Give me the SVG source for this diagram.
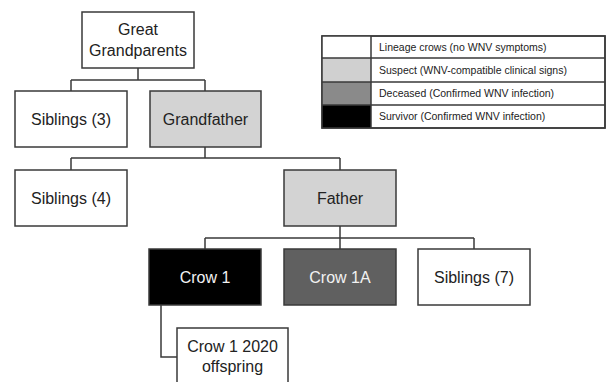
<svg xmlns="http://www.w3.org/2000/svg" width="608" height="382" viewBox="0 0 608 382">
<style>
.box{stroke:#3a3a3a;stroke-width:1.5}
.w{fill:#ffffff}
.s{fill:#d3d3d3}
.d{fill:#606060}
.k{fill:#000000}
.t{font-family:"Liberation Sans",Arial,sans-serif;font-size:16px;fill:#222;text-anchor:middle}
.tw{fill:#f2f2f2}
.lt{font-family:"Liberation Sans",Arial,sans-serif;font-size:10.5px;fill:#222}
.c{fill:none;stroke:#3a3a3a;stroke-width:1.5}
</style>
<rect width="608" height="382" fill="#ffffff"/>
<g id="connectors">
<path class="c" d="M138 68V80M71 80H205M71 80V91M205 80V91"/>
<path class="c" d="M205 147V158M71 158H340M71 158V170M340 158V170"/>
<path class="c" d="M340 226V238M205 238H474M205 238V249M340 238V249M474 238V249"/>
<path class="c" d="M161 305V357H177"/>
</g>
<g id="great-grandparents">
<rect class="box w" x="82" y="12" width="112" height="56"/>
<text class="t" x="138" y="35">Great</text>
<text class="t" x="138" y="56">Grandparents</text>
</g>
<g id="siblings-3">
<rect class="box w" x="15" y="91" width="112" height="56"/>
<text class="t" x="71" y="125">Siblings (3)</text>
</g>
<g id="grandfather">
<rect class="box s" x="150" y="91" width="111" height="56"/>
<text class="t" x="205.5" y="125">Grandfather</text>
</g>
<g id="siblings-4">
<rect class="box w" x="15" y="170" width="112" height="56"/>
<text class="t" x="71" y="204">Siblings (4)</text>
</g>
<g id="father">
<rect class="box s" x="284" y="170" width="112" height="56"/>
<text class="t" x="340" y="204">Father</text>
</g>
<g id="crow-1">
<rect class="box k" x="149" y="249" width="112" height="56"/>
<text class="t tw" x="205" y="283">Crow 1</text>
</g>
<g id="crow-1a">
<rect class="box d" x="284" y="249" width="112" height="56"/>
<text class="t tw" x="340" y="283">Crow 1A</text>
</g>
<g id="siblings-7">
<rect class="box w" x="418" y="249" width="112" height="56"/>
<text class="t" x="474" y="283">Siblings (7)</text>
</g>
<g id="crow-1-2020-offspring">
<rect class="box w" x="177" y="328" width="111" height="62"/>
<text class="t" x="232.5" y="352">Crow 1 2020</text>
<text class="t" x="232.5" y="372">offspring</text>
</g>
<g id="legend">
<rect class="box w" x="322" y="36" width="283" height="92"/>
<rect x="322" y="36" width="49" height="22" fill="#ffffff"/>
<rect x="322" y="58" width="49" height="24" fill="#d0d0d0"/>
<rect x="322" y="82" width="49" height="23" fill="#8a8a8a"/>
<rect x="322" y="105" width="49" height="23" fill="#000000"/>
<path class="c" d="M322 36H605V128H322ZM371 36V128M322 58H605M322 82H605M322 105H605"/>
<text class="lt" x="379" y="51">Lineage crows (no WNV symptoms)</text>
<text class="lt" x="379" y="74">Suspect (WNV-compatible clinical signs)</text>
<text class="lt" x="379" y="97">Deceased (Confirmed WNV infection)</text>
<text class="lt" x="379" y="120">Survivor (Confirmed WNV infection)</text>
</g>
</svg>
